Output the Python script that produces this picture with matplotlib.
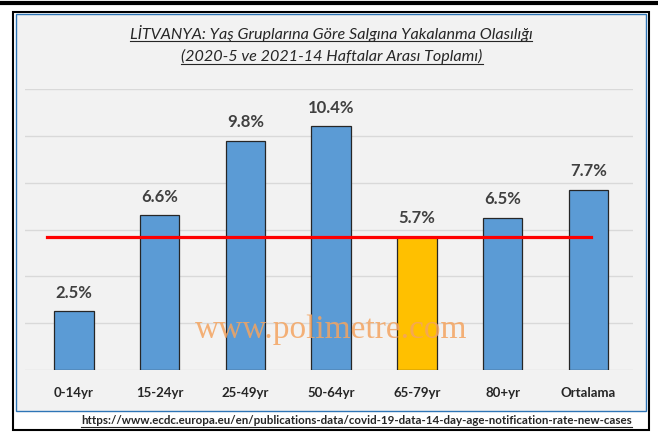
import numpy as np
import matplotlib.pyplot as plt
from matplotlib.patches import Rectangle
from matplotlib.lines import Line2D

# veriler
kategoriler = ['0-14yr', '15-24yr', '25-49yr', '50-64yr', '65-79yr', '80+yr', 'Ortalama']
oranlar = [2.5, 6.6, 9.8, 10.4, 5.7, 6.5, 7.7]
renkler = ['#5b9bd5', '#5b9bd5', '#5b9bd5', '#5b9bd5', '#ffc000', '#5b9bd5', '#5b9bd5']
referans = 5.7  # 65-79yr seviyesi (kirmizi cizgi)

plt.rcParams['font.family'] = ['Lato', 'DejaVu Sans']

W, H = 658, 433
fig = plt.figure(figsize=(W / 100, H / 100), dpi=100)
fig.patch.set_facecolor('white')

def px(x, y):
    return x / W, 1 - y / H

# cerceveler
fig.add_artist(Line2D([0, 1], [1 - 3 / H, 1 - 3 / H], color='black', lw=3,
                      transform=fig.transFigure, zorder=-3))
fig.add_artist(Rectangle(px(13, 430), 636 / W, 418 / H, transform=fig.transFigure,
                         facecolor='white', edgecolor='black', lw=1.5, zorder=-2))
fig.add_artist(Rectangle(px(16, 411), 630 / W, 397 / H, transform=fig.transFigure,
                         facecolor='#f2f2f2', edgecolor='#2e75b6', lw=1, zorder=-1))

ax = fig.add_axes([25 / W, (H - 370) / H, 608 / W, 281 / H])
ax.set_zorder(1)
ax.set_facecolor('none')
x = np.arange(len(kategoriler))
ax.bar(x, oranlar, width=0.46, color=renkler, edgecolor='#262626', linewidth=0.9, zorder=3)
ax.plot([-0.31, 6.03], [referans, referans], color='#ff0000', lw=2.3, zorder=4)

for xi, v in zip(x, oranlar):
    ax.text(xi, v + 0.45, f'{v:.1f}%', ha='center', va='bottom', fontsize=12,
            fontweight='bold', color='#404040', zorder=5)

ax.set_xlim(-0.57, 6.52)
ax.set_ylim(0, 12)
ax.set_yticks(np.arange(0, 13, 2))
ax.yaxis.grid(True, color='#d9d9d9', lw=1)
ax.set_axisbelow(True)
ax.tick_params(axis='y', left=False, labelleft=False)
ax.tick_params(axis='x', bottom=False, pad=9)
ax.set_xticks(x)
ax.set_xticklabels(kategoriler, fontsize=9.5, fontweight='bold', color='#262626')
for s in ax.spines.values():
    s.set_visible(False)

# basliklar
t1 = fig.text(*px(331, 33), 'LİTVANYA: Yaş Gruplarına Göre Salgına Yakalanma Olasılığı',
              ha='center', va='center', fontsize=11.6, style='italic', color='#262626')
t2 = fig.text(*px(332, 56), '(2020-5 ve 2021-14 Haftalar Arası Toplamı)',
              ha='center', va='center', fontsize=11.6, style='italic', color='#262626')

# kaynak
t3 = fig.text(*px(632, 420), 'https://www.ecdc.europa.eu/en/publications-data/covid-19-data-14-day-age-notification-rate-new-cases',
              ha='right', va='center', fontsize=8.3, fontweight='bold', color='#262626')

# alt cizgiler (metin genisligine gore)
fig.canvas.draw()
r = fig.canvas.get_renderer()
for t, y0 in [(t1, 41), (t2, 64), (t3, 427)]:
    bb = t.get_window_extent(r)
    fig.add_artist(Line2D([bb.x0 / W, bb.x1 / W], [1 - y0 / H, 1 - y0 / H], color='#262626',
                          lw=0.8, transform=fig.transFigure))

# filigran
fig.text(*px(331, 330), 'www.polimetre.com', ha='center', va='center', fontsize=24,
         family='Liberation Serif', color='#f4a460', alpha=0.85, zorder=5)

plt.savefig('out.png', dpi=100)
